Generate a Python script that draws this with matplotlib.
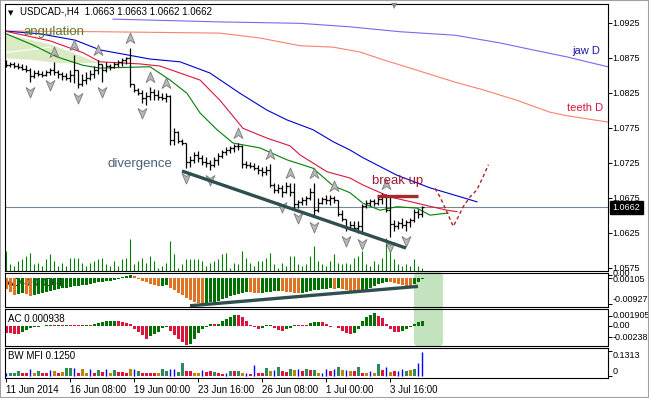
import numpy as np
import matplotlib
matplotlib.use("Agg")
import matplotlib.pyplot as plt
from matplotlib.collections import LineCollection
from matplotlib.patches import FancyBboxPatch, Rectangle
from matplotlib.path import Path
from matplotlib.transforms import ScaledTranslation

plt.rcParams['font.family'] = ['Liberation Sans', 'DejaVu Sans']

# ---------------- data ----------------
title = "USDCAD-,H4  1.0663 1.0663 1.0662 1.0662"
last_price = 1.0662

opens = [
    1.0870, 1.0865, 1.0867, 1.0864, 1.0863, 1.0860, 1.0858, 1.0850, 1.0854, 1.0853,
    1.0851, 1.0855, 1.0858, 1.0855, 1.0853, 1.0850, 1.0847, 1.0851, 1.0858, 1.0838,
    1.0844, 1.0847, 1.0853, 1.0858, 1.0867, 1.0858, 1.0864, 1.0863, 1.0867, 1.0870,
    1.0873, 1.0875, 1.0838, 1.0830, 1.0825, 1.0818, 1.0821, 1.0827, 1.0823, 1.0820,
    1.0818, 1.0821, 1.0758, 1.0770, 1.0757, 1.0754, 1.0727, 1.0730, 1.0737, 1.0733,
    1.0727, 1.0725, 1.0723, 1.0730, 1.0735, 1.0741, 1.0744, 1.0747, 1.0750, 1.0750,
    1.0724, 1.0723, 1.0721, 1.0718, 1.0715, 1.0713, 1.0715, 1.0694, 1.0687, 1.0690,
    1.0684, 1.0693, 1.0684, 1.0667, 1.0670, 1.0673, 1.0675, 1.0684, 1.0658, 1.0668,
    1.0674, 1.0673, 1.0675, 1.0673, 1.0653, 1.0645, 1.0633, 1.0637, 1.0633, 1.0635,
    1.0664, 1.0668, 1.0671, 1.0668, 1.0674, 1.0678, 1.0658, 1.0638, 1.0635, 1.0640,
    1.0637, 1.0641, 1.0644, 1.0655, 1.0653]
highs = [
    1.0873, 1.0870, 1.0870, 1.0868, 1.0867, 1.0865, 1.0861, 1.0858, 1.0858, 1.0857,
    1.0858, 1.0861, 1.0870, 1.0858, 1.0855, 1.0854, 1.0858, 1.0880, 1.0858, 1.0853,
    1.0855, 1.0858, 1.0864, 1.0873, 1.0867, 1.0870, 1.0867, 1.0870, 1.0873, 1.0875,
    1.0877, 1.0890, 1.0838, 1.0833, 1.0830, 1.0827, 1.0834, 1.0831, 1.0830, 1.0825,
    1.0825, 1.0823, 1.0775, 1.0771, 1.0760, 1.0754, 1.0735, 1.0741, 1.0743, 1.0737,
    1.0734, 1.0730, 1.0734, 1.0740, 1.0744, 1.0748, 1.0750, 1.0753, 1.0754, 1.0751,
    1.0728, 1.0727, 1.0725, 1.0723, 1.0720, 1.0721, 1.0724, 1.0697, 1.0695, 1.0694,
    1.0698, 1.0697, 1.0697, 1.0673, 1.0677, 1.0678, 1.0690, 1.0697, 1.0675, 1.0677,
    1.0680, 1.0680, 1.0678, 1.0673, 1.0658, 1.0646, 1.0643, 1.0643, 1.0643, 1.0667,
    1.0673, 1.0674, 1.0674, 1.0677, 1.0683, 1.0681, 1.0678, 1.0644, 1.0643, 1.0647,
    1.0644, 1.0647, 1.0660, 1.0660, 1.0664]
lows = [
    1.0863, 1.0863, 1.0861, 1.0860, 1.0858, 1.0855, 1.0841, 1.0847, 1.0850, 1.0848,
    1.0850, 1.0851, 1.0851, 1.0847, 1.0844, 1.0844, 1.0841, 1.0840, 1.0833, 1.0835,
    1.0838, 1.0844, 1.0847, 1.0853, 1.0841, 1.0855, 1.0858, 1.0861, 1.0863, 1.0864,
    1.0867, 1.0834, 1.0827, 1.0823, 1.0811, 1.0808, 1.0815, 1.0815, 1.0815, 1.0815,
    1.0813, 1.0751, 1.0751, 1.0754, 1.0751, 1.0718, 1.0720, 1.0725, 1.0727, 1.0723,
    1.0720, 1.0715, 1.0720, 1.0723, 1.0733, 1.0737, 1.0740, 1.0741, 1.0744, 1.0718,
    1.0718, 1.0718, 1.0715, 1.0710, 1.0707, 1.0708, 1.0691, 1.0683, 1.0683, 1.0677,
    1.0683, 1.0678, 1.0661, 1.0661, 1.0665, 1.0665, 1.0673, 1.0648, 1.0656, 1.0667,
    1.0667, 1.0665, 1.0668, 1.0650, 1.0643, 1.0628, 1.0630, 1.0630, 1.0625, 1.0624,
    1.0661, 1.0664, 1.0664, 1.0665, 1.0667, 1.0655, 1.0620, 1.0628, 1.0631, 1.0633,
    1.0628, 1.0634, 1.0641, 1.0647, 1.0648]
closes = [
    1.0865, 1.0867, 1.0864, 1.0863, 1.0860, 1.0858, 1.0850, 1.0854, 1.0853, 1.0851,
    1.0855, 1.0858, 1.0855, 1.0853, 1.0850, 1.0847, 1.0851, 1.0858, 1.0838, 1.0844,
    1.0847, 1.0853, 1.0858, 1.0867, 1.0858, 1.0864, 1.0863, 1.0867, 1.0870, 1.0873,
    1.0875, 1.0838, 1.0830, 1.0825, 1.0818, 1.0821, 1.0827, 1.0823, 1.0820, 1.0818,
    1.0821, 1.0758, 1.0770, 1.0757, 1.0754, 1.0727, 1.0730, 1.0737, 1.0733, 1.0727,
    1.0725, 1.0723, 1.0730, 1.0735, 1.0741, 1.0744, 1.0747, 1.0750, 1.0750, 1.0724,
    1.0723, 1.0721, 1.0718, 1.0715, 1.0713, 1.0715, 1.0694, 1.0687, 1.0690, 1.0684,
    1.0693, 1.0684, 1.0667, 1.0670, 1.0673, 1.0675, 1.0684, 1.0658, 1.0668, 1.0674,
    1.0673, 1.0675, 1.0673, 1.0653, 1.0645, 1.0633, 1.0637, 1.0633, 1.0635, 1.0664,
    1.0668, 1.0671, 1.0668, 1.0674, 1.0678, 1.0658, 1.0638, 1.0635, 1.0640, 1.0637,
    1.0641, 1.0644, 1.0655, 1.0653, 1.0662]
volumes = [
    4000, 1400, 1000, 2000, 2400, 3000, 3600, 1400, 1600, 1000, 2400, 3400, 2000, 1000,
    1600, 1000, 2600, 2600, 2600, 1600, 1000, 1600, 2000, 2400, 2600, 1400, 1000, 2000,
    1000, 2400, 2600, 6400, 1400, 2000, 2600, 1600, 3000, 2000, 600, 1000, 1600, 6000,
    3400, 600, 1400, 2400, 2400, 2400, 2400, 2000, 1000, 1600, 2000, 2400, 3400, 3600,
    600, 1600, 1400, 4000, 2600, 1600, 1000, 2000, 2000, 2600, 3600, 1400, 600, 1600,
    1000, 3000, 3000, 1400, 1000, 1400, 3000, 5000, 2000, 1400, 1000, 2000, 3400, 1600,
    1400, 1600, 1400, 2600, 3000, 4000, 1400, 1000, 2000, 1400, 2600, 6600, 4600, 2400,
    1400, 1000, 1400, 1000, 2400, 1000, 600]

ao = [
    -0.00392, -0.00499, -0.00606, -0.00570, -0.00535, -0.00570, -0.00642, -0.00606, -0.00570, -0.00535,
    -0.00499, -0.00463, -0.00428, -0.00392, -0.00374, -0.00357, -0.00321, -0.00303, -0.00285, -0.00267,
    -0.00250, -0.00214, -0.00178, -0.00160, -0.00143, -0.00125, -0.00107, -0.00089, -0.00053, 0.00020,
    0.00060, 0.00105, 0.00050, -0.00053, -0.00107, -0.00160, -0.00214, -0.00267, -0.00303, -0.00285,
    -0.00267, -0.00357, -0.00446, -0.00535, -0.00624, -0.00713, -0.00802, -0.00873, -0.00909, -0.00927,
    -0.00909, -0.00884, -0.00856, -0.00813, -0.00766, -0.00713, -0.00660, -0.00606, -0.00570, -0.00535,
    -0.00499, -0.00517, -0.00535, -0.00553, -0.00535, -0.00517, -0.00499, -0.00481, -0.00463, -0.00481,
    -0.00499, -0.00517, -0.00535, -0.00553, -0.00535, -0.00499, -0.00463, -0.00446, -0.00428, -0.00410,
    -0.00392, -0.00374, -0.00392, -0.00374, -0.00392, -0.00428, -0.00463, -0.00499, -0.00517, -0.00481,
    -0.00428, -0.00357, -0.00303, -0.00232, -0.00178, -0.00143, -0.00160, -0.00196, -0.00232, -0.00267,
    -0.00303, -0.00321, -0.00214, -0.00143, -0.00064]
ac = [
    -0.00140, -0.00150, -0.00160, -0.00166, -0.00134, -0.00086, -0.00046, -0.00034, -0.00020, -0.00012,
    0.00006, 0.00016, 0.00010, 0.00018, 0.00012, 0.00020, 0.00018, 0.00016, 0.00012, 0.00010,
    0.00018, 0.00014, 0.00030, 0.00054, 0.00074, 0.00086, 0.00094, 0.00100, 0.00086, 0.00066,
    0.00046, 0.00026, -0.00066, -0.00120, -0.00180, -0.00260, -0.00200, -0.00160, -0.00130, -0.00040,
    -0.00020, -0.00100, -0.00180, -0.00260, -0.00330, -0.00390, -0.00360, -0.00260, -0.00140, -0.00060,
    -0.00020, 0.00034, 0.00030, 0.00034, 0.00086, 0.00130, 0.00166, 0.00220, 0.00210, 0.00166,
    0.00100, 0.00020, -0.00034, -0.00066, -0.00046, 0.00006, 0.00010, -0.00046, -0.00080, -0.00100,
    -0.00066, -0.00046, 0.00012, 0.00010, 0.00008, 0.00006, 0.00046, 0.00066, 0.00070, 0.00066,
    0.00034, -0.00020, -0.00006, -0.00046, -0.00114, -0.00154, -0.00166, -0.00154, -0.00066, 0.00086,
    0.00166, 0.00220, 0.00254, 0.00200, 0.00154, 0.00034, -0.00066, -0.00134, -0.00136, -0.00114,
    -0.00066, -0.00020, 0.00034, 0.00066, 0.000938]
mfi = [
    0.0155, 0.0155, 0.0139, 0.0258, 0.0139, 0.0139, 0.0361, 0.0139, 0.0258, 0.0170,
    0.0139, 0.0309, 0.0258, 0.0139, 0.0206, 0.0428, 0.0428, 0.0412, 0.0155, 0.0345,
    0.0139, 0.0345, 0.0170, 0.0309, 0.0206, 0.0345, 0.0155, 0.0309, 0.0206, 0.0206,
    0.0155, 0.0376, 0.0345, 0.0258, 0.0170, 0.0170, 0.0139, 0.0139, 0.0139, 0.0376,
    0.0258, 0.0345, 0.0345, 0.0206, 0.0655, 0.0258, 0.0258, 0.0139, 0.0155, 0.0309,
    0.0206, 0.0258, 0.0206, 0.0139, 0.0088, 0.0139, 0.0258, 0.0258, 0.0258, 0.0139,
    0.0139, 0.0088, 0.0552, 0.0139, 0.0139, 0.0397, 0.0258, 0.0294, 0.0464, 0.0258,
    0.0206, 0.0345, 0.0294, 0.0345, 0.0258, 0.0345, 0.0294, 0.0294, 0.0170, 0.0170,
    0.0345, 0.0258, 0.0345, 0.0464, 0.0294, 0.0294, 0.0258, 0.0258, 0.0464, 0.0139,
    0.0139, 0.0258, 0.0139, 0.0603, 0.0294, 0.0464, 0.0206, 0.0258, 0.0258, 0.0376,
    0.0258, 0.0294, 0.0376, 0.0655, 0.1250]
# BW MFI zone: g = green, d = fade, r = squat, u = fake
mfi_zone = list("ugggrrudgr" "rudrdggurd" "durgrudgrr" "rdugrrrrdg" "guuggrrddu"
                "rrgrrugrgd" "ururrgdugr" "rgdurgrgdu" "urugdudrgr" "dudgrudruu" "gdguu")

date_ticks = [0, 16, 32, 48, 64, 80, 96]
date_labels = ["11 Jun 2014", "16 Jun 08:00", "19 Jun 00:00", "23 Jun 16:00",
               "26 Jun 08:00", "1 Jul 00:00", "3 Jul 16:00"]
price_ticks = [1.0925, 1.0875, 1.0825, 1.0775, 1.0725, 1.0675, 1.0625, 1.0575]

# alligator lines (H4) and daily alligator
jaw_x = [-0.375, 8.5, 17.25, 23.5, 36, 43.5, 51, 58.5, 65.25, 70.25, 76.75, 81.75, 86, 89.25, 97.75, 106, 114.25, 117.75]
jaw_y = [1.0914, 1.0910, 1.0901, 1.0887, 1.0874, 1.0870, 1.0854, 1.0825, 1.0801, 1.0787, 1.0773, 1.0756, 1.0744, 1.0733, 1.0708, 1.0690, 1.0676, 1.0670]
teeth_x = [-0.375, 11, 19.25, 23.5, 33.5, 38.5, 48.5, 53.5, 59.25, 65.25, 71, 73.5, 80.25, 86, 89.25, 96, 104.25, 110.25, 112.75]
teeth_y = [1.0914, 1.0900, 1.0883, 1.0870, 1.0867, 1.0864, 1.0844, 1.0815, 1.0775, 1.0761, 1.0750, 1.0737, 1.0713, 1.0704, 1.0694, 1.0677, 1.0666, 1.0658, 1.0656]
lips_x = [-0.375, 6.75, 12.75, 19.25, 23.5, 36, 41, 45.25, 48.5, 52.75, 56.75, 63.5, 70.25, 76.75, 81.75, 86, 89.25, 93.5, 97.75, 102.75, 106, 110.5]
lips_y = [1.0911, 1.0894, 1.0877, 1.0865, 1.0861, 1.0863, 1.0844, 1.0825, 1.0797, 1.0773, 1.0754, 1.0747, 1.0730, 1.0718, 1.0693, 1.0683, 1.0668, 1.0658, 1.0663, 1.0661, 1.0651, 1.0654]
jaw_d_x = [26.75, 53.5, 73.5, 86, 98.5, 112.25, 123.5, 131.75, 140.25, 150.4]
jaw_d_y = [1.0931, 1.0927, 1.0925, 1.0920, 1.0913, 1.0908, 1.0897, 1.0887, 1.0877, 1.0863]
teeth_d_x = [-0.375, 23.5, 53.5, 63.5, 73.5, 81.75, 88.5, 94.25, 102.75, 112.25, 119.25, 127.75, 136, 140.25, 150.4]
teeth_d_y = [1.0914, 1.0913, 1.0911, 1.0904, 1.0893, 1.0891, 1.0884, 1.0873, 1.0858, 1.0841, 1.0830, 1.0815, 1.0798, 1.0793, 1.0784]

up_fractals = [12, 17, 23, 31, 36, 40, 58, 66, 71, 77, 82, 95]
down_fractals = [6, 11, 18, 24, 34, 45, 51, 69, 73, 77, 85, 89, 96, 100]

# hand drawn annotations
ang_x = [-0.375, 11, 23.5, 13.5, 6, -0.375]
ang_y = [1.0910, 1.0895, 1.0868, 1.0868, 1.0873, 1.0875]
div_x, div_y = [44, 100], [1.0714, 1.0604]
ao_div_x, ao_div_y = [46, 103], [-0.0100, -0.0031]
brk_x, brk_y = [92.75, 103], [1.0679, 1.0679]
proj_x = [107.25, 108.5, 110.2, 111.8, 113.1, 114.3, 116, 117.7, 119.3, 120.6]
proj_y = [1.0689, 1.0677, 1.0656, 1.0635, 1.0649, 1.0663, 1.0677, 1.0687, 1.0706, 1.0723]

# ---------------- figure ----------------
n = len(closes)
bars = np.arange(n)
W, H = 649, 398
fig = plt.figure(figsize=(W / 100, H / 100), dpi=100)
fig.patch.set_facecolor('white')


def add_panel(top, bottom):
    ax = fig.add_axes([4.5 / W, 1 - bottom / H, 603 / W, (bottom - top) / H])
    ax.set_facecolor('none')
    for s in ax.spines.values():
        s.set_linewidth(0.8)
    ax.set_xlim(-0.375, 150.375)
    ax.yaxis.tick_right()
    ax.tick_params(axis='y', length=3, width=0.7, labelright=False)
    ax.tick_params(axis='x', bottom=False, labelbottom=False)
    return ax


def right_label(ax, y, txt, va='center'):
    ax.annotate(txt, xy=(1, y), xycoords=ax.get_yaxis_transform(), xytext=(5, 0),
                textcoords='offset pixels', ha='left', va=va, fontsize=6.5,
                annotation_clip=False)


# main price panel
ax = add_panel(4, 271)
ax.set_ylim(1.05712, 1.09526)
ax.set_yticks(price_ticks)
for p in price_ticks:
    right_label(ax, p, f"{p:.4f}")

ax.fill(ang_x, ang_y, color='#DAEBC4', lw=0, zorder=0.5)
ax.plot([-0.375, 11], [1.0883, 1.0891], color='white', lw=0.8, zorder=0.6)

ax.plot(jaw_d_x, jaw_d_y, color='#7B68EE', lw=0.8, zorder=2)
ax.plot(teeth_d_x, teeth_d_y, color='#FA8072', lw=0.8, zorder=2)
ax.plot(jaw_x, jaw_y, color='#0000CD', lw=0.8, zorder=2)
ax.plot(teeth_x, teeth_y, color='#DC143C', lw=0.8, zorder=2)
ax.plot(lips_x, lips_y, color='#008000', lw=0.8, zorder=2)

ax.axhline(last_price, color='#778899', lw=0.8, zorder=1.5)

ax.vlines(bars, 0, np.array(volumes) / 53400, transform=ax.get_xaxis_transform(),
          color='#008000', lw=0.8, zorder=1)

segs = []
for i in bars:
    segs.append([(i, lows[i]), (i, highs[i])])
    segs.append([(i - 0.45, opens[i]), (i, opens[i])])
    segs.append([(i, closes[i]), (i + 0.45, closes[i])])
ax.add_collection(LineCollection(segs, colors='black', linewidths=0.9, zorder=4))

up_marker = Path([(0, 1), (0.8, -0.9), (0, -0.35), (-0.8, -0.9), (0, 1)],
                 [Path.MOVETO, Path.LINETO, Path.LINETO, Path.LINETO, Path.CLOSEPOLY])
dn_marker = Path([(0, -1), (0.8, 0.9), (0, 0.35), (-0.8, 0.9), (0, -1)],
                 [Path.MOVETO, Path.LINETO, Path.LINETO, Path.LINETO, Path.CLOSEPOLY])
up_tr = ax.transData + ScaledTranslation(0, 0.10, fig.dpi_scale_trans)
dn_tr = ax.transData + ScaledTranslation(0, -0.10, fig.dpi_scale_trans)
ax.plot(up_fractals, [highs[i] for i in up_fractals], ls='none', marker=up_marker, ms=8,
        mfc='#B8B8B8', mec='#7A7A7A', mew=0.6, transform=up_tr, zorder=3)
ax.plot(down_fractals, [lows[i] for i in down_fractals], ls='none', marker=dn_marker, ms=8,
        mfc='#B8B8B8', mec='#7A7A7A', mew=0.6, transform=dn_tr, zorder=3)

ax.plot(div_x, div_y, color='#2F4F4F', lw=2.4, solid_capstyle='butt', zorder=5)
ax.plot(brk_x, brk_y, color='#A52A2A', lw=2.4, solid_capstyle='butt', zorder=5)
ax.plot(proj_x, proj_y, color='#B22222', lw=1.0, ls=(0, (2.5, 2)), zorder=5)

ax.text(4.25, 1.0913, "angulation", color='#5A7A2A', fontsize=9.5, va='center', ha='left', zorder=6)
ax.text(25.25, 1.0724, "divergence", color='#4A6078', fontsize=9.5, va='center', ha='left', zorder=6)
ax.text(91.5, 1.0700, "break up", color='#9B1B30', fontsize=9.5, va='center', ha='left', zorder=6)
ax.text(141.5, 1.0886, "jaw D", color='#1A1AA0', fontsize=8, va='center', ha='left', zorder=6)
ax.text(140.25, 1.0804, "teeth D", color='#DC143C', fontsize=8, va='center', ha='left', zorder=6)

ax.annotate(f"{last_price:.4f}", xy=(1, last_price), xycoords=ax.get_yaxis_transform(),
            xytext=(5, 0), textcoords='offset pixels', ha='left', va='center', fontsize=6.5,
            color='white', annotation_clip=False, zorder=10,
            bbox=dict(boxstyle='square,pad=0.25', fc='black', ec='black'))

# AO panel
ax_ao = add_panel(272.7, 306.7)
ax_ao.set_ylim(-0.01034, 0.00178)
ao_col = ['#DF7325' if i == 0 or ao[i] <= ao[i - 1] else '#007000' for i in bars]
ax_ao.bar(bars, ao, width=0.75, color=ao_col, lw=0, zorder=2)
ax_ao.plot(ao_div_x, ao_div_y, color='#2F4F4F', lw=2.4, solid_capstyle='butt', zorder=3)
ax_ao.text(0.004, 0.70, f"AO {ao[-1]:.5f}", transform=ax_ao.transAxes, fontsize=7,
           va='center', ha='left', zorder=1)
ax_ao.set_yticks([0.00105, 0.0, -0.00927])
right_label(ax_ao, 0.0, "0.00", va='bottom')
right_label(ax_ao, 0.00105, "0.00105", va='top')
right_label(ax_ao, -0.00927, "-0.00927", va='bottom')

# AC panel
ax_ac = add_panel(309.3, 346)
ax_ac.set_ylim(-0.0041, 0.00324)
ac_col = ['#DC143C' if i == 0 or ac[i] <= ac[i - 1] else '#007000' for i in bars]
ax_ac.bar(bars, ac, width=0.75, color=ac_col, lw=0, zorder=2)
ax_ac.text(0.006, 0.736, f"AC {ac[-1]:.6f}", transform=ax_ac.transAxes, fontsize=7,
           va='center', ha='left', zorder=1)
ax_ac.set_yticks([0.001905, 0.0, -0.00238])
right_label(ax_ac, 0.001905, "0.001905")
right_label(ax_ac, 0.0, "0.00")
right_label(ax_ac, -0.00238, "-0.00238")

# BW MFI panel
ax_m = add_panel(348.3, 377.7)
ax_m.set_ylim(-0.0088, 0.1428)
zone_col = {'g': '#2E8B57', 'd': '#B8860B', 'r': '#DC143C'}
wide = [i for i in bars if mfi_zone[i] != 'u']
thin = [i for i in bars if mfi_zone[i] == 'u']
ax_m.bar(wide, [mfi[i] for i in wide], width=0.75, lw=0,
         color=[zone_col[mfi_zone[i]] for i in wide], zorder=2)
ax_m.vlines(thin, 0, [mfi[i] for i in thin], color='#0000FF', lw=1.0, zorder=2)
ax_m.text(0.006, 0.738, f"BW MFI {mfi[-1]:.4f}", transform=ax_m.transAxes, fontsize=7,
          va='center', ha='left', zorder=1)
ax_m.set_yticks([0.1313, 0.0])
right_label(ax_m, 0.1313, "0.1313", va='top')
right_label(ax_m, 0.0, "0", va='bottom')
ax_m.set_xticks(date_ticks)
ax_m.set_xticklabels(date_labels, fontsize=7, ha='left')
ax_m.tick_params(axis='x', bottom=True, labelbottom=True, length=3, width=0.7, pad=2)

# highlight box behind the AO/AC bars
box = FancyBboxPatch((414 / 100, (H - 347) / 100), 0.29, 0.755,
                     boxstyle='round,pad=0,rounding_size=0.06',
                     transform=fig.dpi_scale_trans, fc='#C3E3BE', ec='none', zorder=-1)
fig.add_artist(box)

# window decorations
fig.text(8 / W, 1 - 13 / H, "\u25bc", fontsize=5, va='center', ha='left', family='DejaVu Sans')
fig.text(20 / W, 1 - 12 / H, title, fontsize=7, va='center', ha='left')
fig.text(394 / W, 1 - 6 / H, "\u25bc", fontsize=6, va='center', ha='center',
         color='#808890', family='DejaVu Sans')
fig.add_artist(Rectangle((0, 0), 1, 1, transform=fig.transFigure, fill=False,
                         ec='#A0A0A0', lw=1.5))

fig.savefig('out.png', dpi=100)
